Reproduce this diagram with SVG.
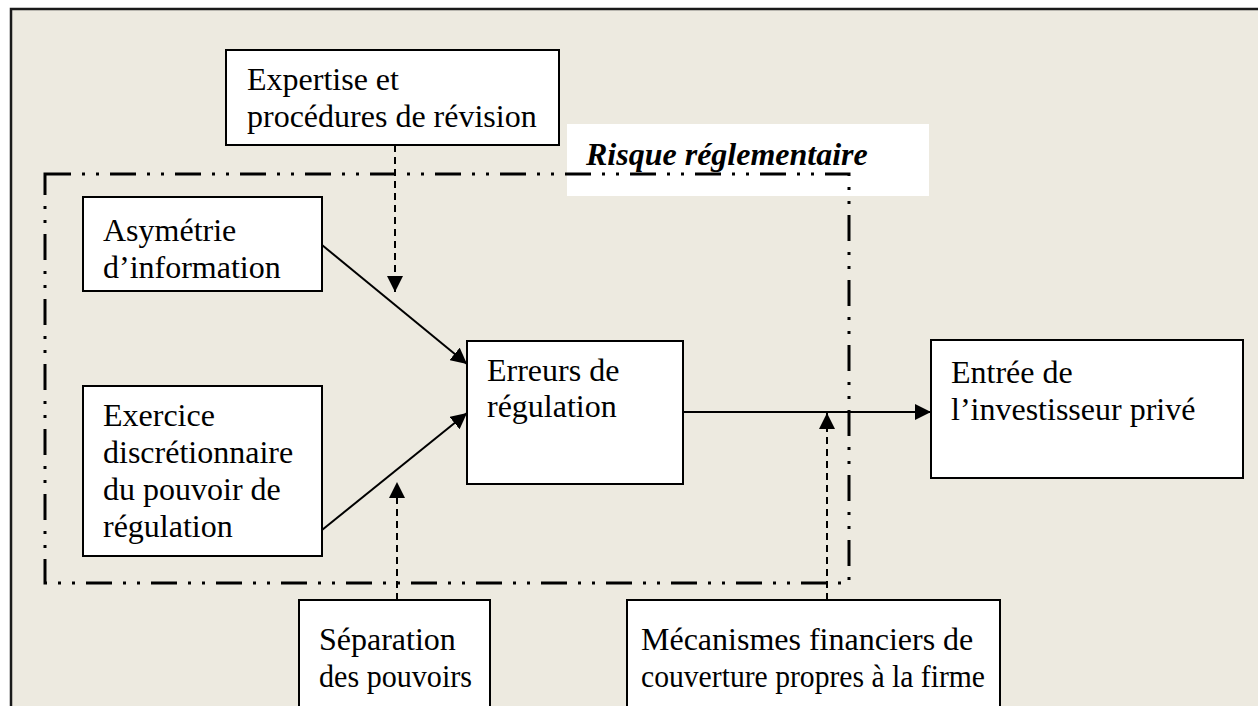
<svg xmlns="http://www.w3.org/2000/svg" width="1258" height="706" viewBox="0 0 1258 706">
<style>
  .box { fill: #ffffff; stroke: #000000; stroke-width: 2; }
  .t { font-family: "Liberation Serif", "Times New Roman", serif; font-size: 32px; fill: #000000; }
  .tb { font-family: "Liberation Serif", "Times New Roman", serif; font-size: 32px; font-weight: bold; font-style: italic; fill: #000000; }
  .solid { stroke: #000000; stroke-width: 2; fill: none; }
  .dash { stroke: #000000; stroke-width: 2; fill: none; stroke-dasharray: 7 5; }
  .frame { stroke: #000000; stroke-width: 3; fill: none; stroke-dasharray: 26 11 3 11 3 11; }
</style>
<defs>
  <marker id="ah" markerUnits="userSpaceOnUse" markerWidth="18" markerHeight="16" refX="16" refY="8" orient="auto">
    <path d="M0,0 L16,8 L0,16 Z" fill="#000000"/>
  </marker>
</defs>
<rect x="0" y="0" width="1258" height="706" fill="#ffffff"/>
<rect id="background" x="11" y="9" width="1260" height="710" fill="#EDEAE0" stroke="#1a1a1a" stroke-width="2.5"/>

<g id="risque-label">
  <rect x="567" y="124" width="362" height="72" fill="#ffffff"/>
  <text class="tb" x="586" y="165">Risque réglementaire</text>
</g>

<g id="expertise">
  <rect class="box" x="226" y="50" width="333" height="95"/>
  <text class="t" x="247" y="90">Expertise et</text>
  <text class="t" x="247" y="127">procédures de révision</text>
</g>

<g id="asymetrie">
  <rect class="box" x="83" y="197" width="239" height="94"/>
  <text class="t" x="103" y="241">Asymétrie</text>
  <text class="t" x="103" y="278">d’information</text>
</g>

<g id="exercice">
  <rect class="box" x="83" y="386" width="239" height="170"/>
  <text class="t" x="103" y="426">Exercice</text>
  <text class="t" x="103" y="463">discrétionnaire</text>
  <text class="t" x="103" y="500">du pouvoir de</text>
  <text class="t" x="103" y="537">régulation</text>
</g>

<g id="erreurs">
  <rect class="box" x="467" y="341" width="216" height="143"/>
  <text class="t" x="487" y="381">Erreurs de</text>
  <text class="t" x="487" y="417">régulation</text>
</g>

<g id="entree">
  <rect class="box" x="931" y="340" width="312" height="138"/>
  <text class="t" x="951" y="383">Entrée de</text>
  <text class="t" x="951" y="420">l’investisseur privé</text>
</g>

<g id="separation">
  <rect class="box" x="299" y="600" width="191" height="120"/>
  <text class="t" x="319" y="650">Séparation</text>
  <text class="t" x="319" y="687" textLength="153" lengthAdjust="spacingAndGlyphs">des pouvoirs</text>
</g>

<g id="mecanismes">
  <rect class="box" x="627" y="600" width="373" height="120"/>
  <text class="t" x="641" y="650">Mécanismes financiers de</text>
  <text class="t" x="641" y="687" textLength="344" lengthAdjust="spacingAndGlyphs">couverture propres à la firme</text>
</g>

<g id="connectors">
  <line class="solid" x1="322" y1="245" x2="467" y2="364" marker-end="url(#ah)"/>
  <line class="solid" x1="322" y1="530" x2="467" y2="413" marker-end="url(#ah)"/>
  <line class="solid" x1="683" y1="412" x2="931" y2="412" marker-end="url(#ah)"/>
  <line class="dash" x1="395" y1="145" x2="395" y2="292" marker-end="url(#ah)"/>
  <line class="dash" x1="397" y1="600" x2="397" y2="482" marker-end="url(#ah)"/>
  <line class="dash" x1="827" y1="600" x2="827" y2="413" marker-end="url(#ah)"/>
</g>

<g id="risque-frame">
  <rect class="frame" x="45" y="174" width="804" height="409"/>
</g>
</svg>
